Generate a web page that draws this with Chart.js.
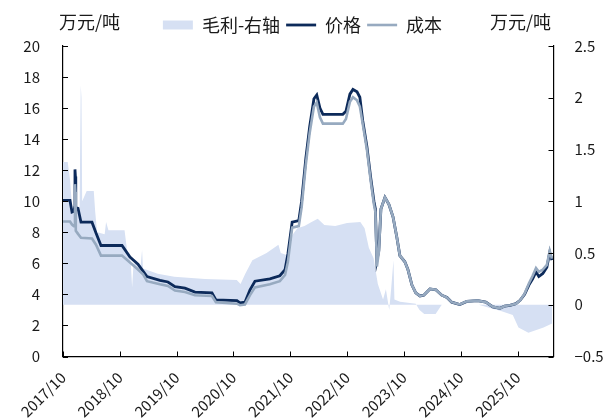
<!DOCTYPE html>
<html>
<head>
<meta charset="utf-8">
<script src="https://cdn.jsdelivr.net/npm/chart.js@4.4.1/dist/chart.umd.min.js"></script>
<style>
  html, body { margin: 0; padding: 0; background: #ffffff; }
  #wrap { width: 605px; height: 419px; position: relative; }
</style>
</head>
<body>
<div id="wrap"><canvas id="c" width="605" height="419"></canvas></div>
<script>
// ---- data (x = months since 2017/10) ----
const tickYears = ['2017/10','2018/10','2019/10','2020/10','2021/10','2022/10','2023/10','2024/10','2025/10'];

const lineMonths = [0,1.48,1.9,2.3,2.45,2.53,2.62,2.7,3.17,3.8,6.12,6.97,8.02,12.46,14.15,15.84,16.9,17.74,20.48,22.17,
  23.65,25.76,27.87,31.46,32.3,36.74,37.37,38.43,39.5,40.54,43.7,45.8,46.9,47.5,48.4,49.8,50.4,51.3,52.1,53.0,
  53.6,54.27,54.9,59.1,59.76,60.6,61.24,62.1,62.7,63.3,64.2,65.0,65.67,65.98,66.3,66.7,67.15,68.0,68.83,69.7,
  70.5,71.15,72.2,72.85,73.7,74.5,75.4,76.2,77.5,78.76,80.0,81.1,82.1,83.8,85.3,87.6,89.3,90.8,92.3,93.3,
  94.4,95.65,96.5,97.5,98.4,99.2,99.9,100.5,101.35,102.2,102.8,103.25];

const price = [10.05,10.05,9.3,9.35,9.6,12.05,11.6,9.6,9.55,8.65,8.65,7.95,7.15,7.15,6.4,5.95,5.5,5.15,4.9,4.8,
  4.5,4.4,4.15,4.1,3.65,3.6,3.45,3.5,4.3,4.85,5.0,5.2,5.6,6.6,8.65,8.75,10.0,12.8,14.8,16.6,
  16.85,16.0,15.6,15.6,15.8,16.9,17.2,17.05,16.7,15.2,13.5,11.5,10.0,9.5,6.2,6.8,9.5,10.25,9.8,9.0,
  7.7,6.5,6.1,5.6,4.6,4.1,3.9,3.95,4.35,4.3,3.95,3.8,3.5,3.35,3.55,3.6,3.5,3.2,3.1,3.25,
  3.3,3.4,3.6,4.0,4.6,5.0,5.45,5.15,5.35,5.75,6.7,6.2];

const cost = [8.7,8.7,8.5,8.4,8.4,11.1,10.6,8.1,7.9,7.65,7.6,7.2,6.5,6.5,6.05,5.6,5.3,4.85,4.65,4.55,
  4.25,4.15,3.95,3.9,3.5,3.4,3.3,3.35,3.95,4.45,4.65,4.85,5.25,6.1,8.3,8.4,9.6,12.4,14.4,16.1,
  16.35,15.4,15.0,15.0,15.3,16.4,16.7,16.5,16.1,15.0,13.3,11.3,9.8,9.3,5.8,6.7,9.5,10.25,9.8,9.0,
  7.7,6.5,6.1,5.6,4.6,4.1,3.9,3.95,4.35,4.3,3.95,3.8,3.5,3.35,3.55,3.6,3.5,3.2,3.1,3.25,
  3.3,3.4,3.6,4.05,4.7,5.2,5.7,5.45,5.6,5.9,6.8,6.3];

const marginMonths = [0,1.0,1.5,1.9,2.5,3.5,3.75,3.9,4.05,5.0,6.5,6.8,7.2,8.8,9.1,9.6,13.0,13.6,14.3,14.6,
  14.9,16.4,16.7,16.9,20.0,23.5,30.0,36.7,37.5,38.5,40.0,43.0,45.5,46.0,47.2,47.9,49.5,51.0,52.5,53.8,
  55.2,57.5,60.0,62.8,63.7,64.6,65.6,66.5,67.6,68.2,68.9,69.3,69.8,70.0,71.2,74.5,75.3,76.3,78.7,80.0,
  87.8,90.0,92.5,95.0,96.2,98.3,101.5,103.3];

const margin = [1.38,1.38,1.2,0.95,0.88,0.9,2.12,2.0,1.0,1.1,1.1,0.9,0.7,0.68,0.8,0.72,0.72,0.5,0.42,0.17,
  0.4,0.38,0.53,0.35,0.3,0.27,0.25,0.24,0.2,0.3,0.43,0.5,0.58,0.5,0.48,0.64,0.74,0.76,0.8,0.83,
  0.77,0.76,0.79,0.8,0.74,0.55,0.45,0.2,0.05,0.15,-0.05,0.15,0.43,0.05,0.03,0.01,-0.05,-0.09,-0.09,0.0,
  0.0,-0.03,-0.06,-0.1,-0.22,-0.27,-0.22,-0.18];

const leftTicks = [0,2,4,6,8,10,12,14,16,18,20];
const rightTicks = [-0.5,0,0.5,1,1.5,2,2.5];

// ---- styles ----
const C_AREA = '#D6E0F3';
const C_PRICE = '#0C2A5A';
const C_COST = '#97AAC0';
const FONT = '"Noto Sans CJK SC", "Noto Sans", sans-serif';
const AREA = { left: 63, right: 553.5, top: 46, bottom: 356.5 };
const LEGEND_CENTER_Y = 25;

const pts = (xs, ys) => xs.map((x, i) => ({ x: x, y: ys[i] }));

const decor = {
  id: 'decor',
  afterDraw(chart) {
    const ctx = chart.ctx;
    const ca = chart.chartArea;
    const sx = chart.scales.x, sy = chart.scales.y, sy1 = chart.scales.y1;
    ctx.save();
    ctx.strokeStyle = '#000';
    ctx.lineWidth = 1;
    ctx.beginPath();
    sy.ticks.forEach(t => { const p = Math.round(sy.getPixelForValue(t.value)) + 0.5; ctx.moveTo(ca.left, p); ctx.lineTo(ca.left + 5, p); });
    sy1.ticks.forEach(t => { const p = Math.round(sy1.getPixelForValue(t.value)) + 0.5; ctx.moveTo(ca.right, p); ctx.lineTo(ca.right - 5, p); });
    sx.ticks.forEach(t => { const p = Math.round(sx.getPixelForValue(t.value)) + 0.5; ctx.moveTo(p, ca.bottom); ctx.lineTo(p, ca.bottom - 5); });
    ctx.stroke();
    ctx.fillStyle = '#1a1a1a';
    ctx.font = '18px ' + FONT;
    ctx.textBaseline = 'middle';
    ctx.textAlign = 'left';
    ctx.fillText('万元/吨', 59, 22);
    ctx.fillText('万元/吨', 490, 22);
    ctx.restore();
  }
};

const chart = new Chart(document.getElementById('c'), {
  type: 'line',
  data: {
    datasets: [
      {
        label: '毛利-右轴', data: pts(marginMonths, margin), yAxisID: 'y1',
        backgroundColor: C_AREA, borderColor: C_AREA, borderWidth: 0, fill: 'origin',
        pointRadius: 0, pointStyle: 'rect', order: 2
      },
      {
        label: '价格', data: pts(lineMonths, price), yAxisID: 'y',
        borderColor: C_PRICE, backgroundColor: C_PRICE, borderWidth: 2.8, fill: false,
        pointRadius: 0, pointStyle: 'line', order: 1
      },
      {
        label: '成本', data: pts(lineMonths, cost), yAxisID: 'y',
        borderColor: C_COST, backgroundColor: C_COST, borderWidth: 2.6, fill: false,
        pointRadius: 0, pointStyle: 'line', order: 0
      }
    ]
  },
  options: {
    responsive: false,
    animation: false,
    devicePixelRatio: 1,
    layout: { padding: { left: 0, right: 0, top: 4, bottom: 0 } },
    elements: { line: { tension: 0 } },
    plugins: {
      tooltip: { enabled: false },
      legend: {
        display: true, position: 'top', align: 'center',
        labels: {
          usePointStyle: true, pointStyleWidth: 30, boxHeight: 9, padding: 6,
          color: '#1a1a1a', font: { family: FONT, size: 18 },
          sort: (a, b) => a.datasetIndex - b.datasetIndex
        }
      }
    },
    scales: {
      x: {
        type: 'linear', min: 0, max: 103.6,
        afterBuildTicks: s => { s.ticks = tickYears.map((_, i) => ({ value: i * 12 })); },
        afterFit: s => { s.height = 419 - AREA.bottom; },
        grid: { display: false },
        border: { display: true, color: '#000', width: 1.2 },
        ticks: {
          autoSkip: false, minRotation: 45, maxRotation: 45, padding: 4,
          color: '#1a1a1a', font: { family: FONT, size: 15 },
          callback: v => tickYears[Math.round(v / 12)]
        }
      },
      y: {
        position: 'left', min: 0, max: 20,
        afterBuildTicks: s => { s.ticks = leftTicks.map(v => ({ value: v })); },
        afterFit: s => { s.width = AREA.left; },
        grid: { display: false },
        border: { display: true, color: '#000', width: 1.2 },
        ticks: { padding: 15, color: '#1a1a1a', font: { family: FONT, size: 15 } }
      },
      y1: {
        position: 'right', min: -0.5, max: 2.5,
        afterBuildTicks: s => { s.ticks = rightTicks.map(v => ({ value: v })); },
        afterFit: s => { s.width = 605 - AREA.right; },
        grid: { display: false },
        border: { display: true, color: '#000', width: 1.2 },
        ticks: {
          padding: 13, color: '#1a1a1a', font: { family: FONT, size: 15 },
          callback: v => (v < 0 ? '\u2212' + Math.abs(v) : String(v))
        }
      }
    }
  },
  plugins: [decor]
});

// place the legend row and the plot area top where the reference has them
(function placeLayout() {
  const lg = chart.legend;
  const hb = lg.legendHitBoxes[0];
  const center = hb.top + hb.height / 2;
  const shift = LEGEND_CENTER_Y - center;
  chart.options.layout.padding.top += shift;
  const extra = AREA.top - (chart.chartArea.top + shift);
  const origFit = lg.fit.bind(lg);
  lg.fit = function () { origFit(); this.height += extra; };
  chart.update();
  const d2 = AREA.top - chart.chartArea.top;
  if (Math.abs(d2) > 0.01) {
    lg.fit = function () { origFit(); this.height += extra + d2; };
    chart.update();
  }
})();
</script>
</body>
</html>
